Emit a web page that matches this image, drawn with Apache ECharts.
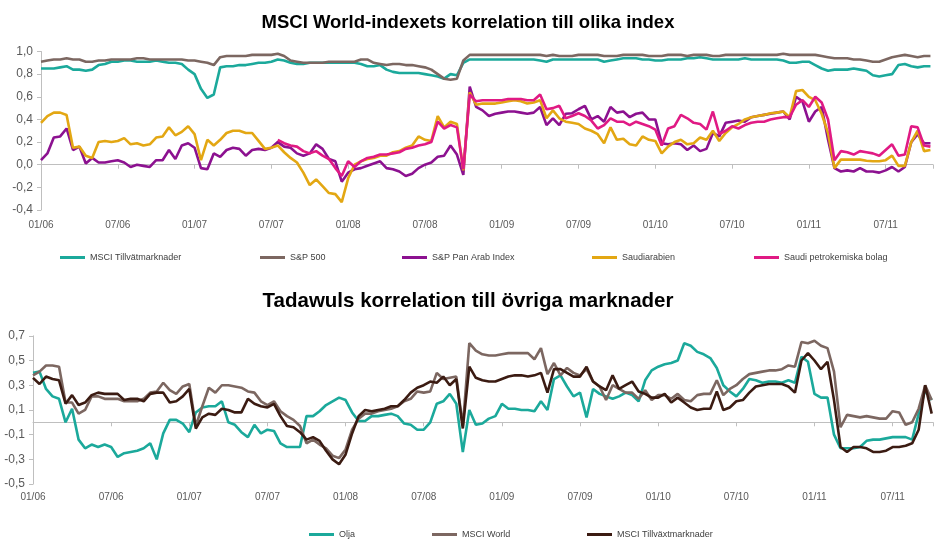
<!DOCTYPE html>
<html>
<head>
<meta charset="utf-8">
<script src="https://cdn.jsdelivr.net/npm/echarts@6.0.0/dist/echarts.min.js"></script>
<style>
  html, body { margin: 0; padding: 0; background: #fff; }
  #chart { width: 936px; height: 539px; }
</style>
</head>
<body>
<div id="chart"></div>
<script>
// sampling grid: months since 01/2006, every half month (0 .. 69.5)
var months = [];
for (var i = 0; i < 140; i++) months.push(i / 2);

var tickLabels = ['01/06', '07/06', '01/07', '07/07', '01/08', '07/08', '01/09', '07/09', '01/10', '07/10', '01/11', '07/11'];

// --- MSCI World-indexets korrelation till olika index ---
var msciTillvat = [
  0.85,0.85,0.85,0.86,0.87,0.84,0.84,0.83,0.84,
  0.88,0.89,0.91,0.91,0.92,0.92,0.91,0.91,0.91,0.92,0.91,0.90,
  0.90,0.89,0.84,0.80,0.67,0.59,0.62,0.86,
  0.87,0.87,0.88,0.88,0.89,0.90,0.90,0.91,0.93,0.92,0.90,0.89,0.89,0.90,
  0.90,0.90,0.90,0.90,0.90,0.90,0.90,0.89,0.87,0.87,0.88,0.84,
  0.82,0.81,0.81,0.81,0.81,0.80,0.79,0.78,0.76,0.80,0.79,0.90,
  0.93,0.93,0.93,0.93,0.93,0.93,0.93,0.93,0.93,0.93,0.93,0.92,0.91,0.93,
  0.93,0.93,0.93,0.93,0.93,0.93,0.93,0.91,0.92,
  0.93,0.94,0.94,0.94,0.93,0.93,0.92,0.92,0.93,0.93,0.93,0.94,0.94,0.95,0.94,0.93,0.93,0.93,0.93,0.93,0.94,0.93,0.93,0.93,0.93,0.93,
  0.92,0.90,0.90,0.91,0.91,0.88,0.85,0.83,0.84,0.84,0.84,0.85,0.84,0.83,0.79,0.78,0.79,0.80,0.88,0.89,0.87,0.86,0.87,0.87
];
var sp500 = [
  0.91,0.92,0.93,0.93,0.94,0.93,0.93,0.91,0.91,
  0.92,0.92,0.93,0.93,0.93,0.93,0.94,0.94,0.93,0.93,0.93,0.93,
  0.93,0.93,0.92,0.92,0.91,0.90,0.88,0.95,
  0.96,0.96,0.96,0.96,0.97,0.97,0.97,0.97,0.98,0.96,0.92,0.91,0.90,0.90,
  0.90,0.90,0.91,0.91,0.91,0.91,0.91,0.93,0.93,0.90,0.89,0.88,
  0.89,0.89,0.88,0.88,0.87,0.86,0.84,0.80,0.76,0.75,0.76,0.92,
  0.97,0.97,0.97,0.97,0.97,0.97,0.97,0.97,0.97,0.97,0.97,0.97,0.96,0.97,
  0.96,0.96,0.96,0.97,0.97,0.97,0.97,0.96,0.96,
  0.96,0.97,0.97,0.97,0.97,0.96,0.96,0.96,0.97,0.97,0.97,0.96,0.97,0.97,0.97,0.96,0.96,0.97,0.97,0.97,0.97,0.97,0.97,0.97,0.97,0.97,
  0.98,0.97,0.97,0.97,0.97,0.97,0.96,0.95,0.94,0.94,0.94,0.93,0.93,0.92,0.91,0.91,0.93,0.95,0.96,0.97,0.96,0.95,0.96,0.96
];
var spPanArab = [
  0.04,0.10,0.24,0.25,0.32,0.13,0.16,0.01,0.06,0.02,0.02,0.03,0.04,0.02,-0.02,0.00,-0.01,-0.02,0.04,0.04,0.13,
  0.05,0.17,0.19,0.15,-0.03,-0.04,0.10,0.07,0.13,0.15,0.14,0.08,0.13,0.14,0.13,0.15,0.20,0.16,0.15,0.10,
  0.08,0.10,0.18,0.14,0.05,0.03,-0.15,-0.07,-0.04,-0.03,-0.01,0.01,0.03,-0.03,-0.04,-0.06,-0.10,-0.08,-0.03,0.00,
  0.02,0.07,0.08,0.17,0.09,-0.09,0.69,0.51,0.48,
  0.43,0.45,0.46,0.47,0.47,0.46,0.45,0.46,0.51,0.35,0.41,0.35,0.45,0.455,0.49,0.52,0.40,0.43,0.38,0.51,
  0.46,0.47,0.42,0.45,0.46,0.40,0.40,0.19,0.18,0.19,0.18,0.13,0.17,0.12,0.14,0.28,0.25,0.37,0.38,0.39,
  0.38,0.42,0.43,0.44,0.45,0.46,0.47,0.40,0.60,0.56,0.38,0.47,0.51,0.22,-0.03,-0.06,-0.05,-0.06,-0.03,-0.06,
  -0.06,-0.07,-0.05,-0.02,-0.06,-0.02,0.20,0.27,0.19,0.19
];
var saudiarabien = [
  0.37,0.43,0.46,0.46,0.44,0.15,0.16,0.08,0.06,0.20,0.21,0.20,0.21,0.235,0.18,0.19,0.17,0.18,0.24,0.25,0.33,
  0.26,0.29,0.34,0.27,0.04,0.22,0.17,0.22,0.28,0.30,0.30,0.28,0.28,0.21,0.14,0.15,0.17,0.11,0.06,0.02,
  -0.07,-0.18,-0.13,-0.19,-0.25,-0.26,-0.33,-0.12,0.00,0.03,0.05,0.06,0.08,0.08,0.11,0.12,0.15,0.17,0.25,0.22,
  0.21,0.43,0.33,0.38,0.36,-0.05,0.64,0.53,0.54,
  0.54,0.54,0.55,0.56,0.57,0.56,0.54,0.55,0.57,0.41,0.48,0.41,0.38,0.37,0.36,0.32,0.30,0.27,0.19,0.33,
  0.22,0.23,0.18,0.17,0.25,0.22,0.21,0.10,0.16,0.20,0.22,0.18,0.19,0.24,0.22,0.30,0.21,0.28,0.33,0.36,
  0.40,0.42,0.43,0.44,0.455,0.46,0.47,0.42,0.65,0.66,0.60,0.57,0.45,0.28,-0.03,0.045,0.045,0.045,0.045,0.035,
  0.03,0.03,0.04,0.08,-0.01,-0.01,0.20,0.30,0.12,0.13
];
var saudiPetro = [
  null,null,null,null,null,null,null,null,null,null,null,null,null,null,null,null,null,null,null,
  null,null,null,null,null,null,null,null,null,null,null,null,null,null,null,null,null,null,
  0.22,0.19,0.17,0.16,0.12,0.10,0.12,0.08,0.05,-0.03,-0.10,0.03,-0.02,0.03,0.06,0.07,0.09,0.09,0.10,0.11,0.14,0.15,0.17,0.18,
  0.20,0.38,0.32,0.35,0.33,-0.04,0.62,0.56,0.57,
  0.57,0.57,0.57,0.58,0.58,0.58,0.57,0.57,0.62,0.49,0.50,0.52,0.41,0.43,0.455,0.43,0.39,0.32,0.35,0.41,
  0.38,0.38,0.35,0.38,0.36,0.34,0.31,0.17,0.32,0.34,0.44,0.41,0.37,0.36,0.31,0.47,0.27,0.30,0.34,0.32,
  0.35,0.37,0.38,0.38,0.40,0.41,0.42,0.42,0.53,0.57,0.51,0.60,0.55,0.40,0.04,0.12,0.11,0.09,0.12,0.11,
  0.10,0.08,0.13,0.18,0.08,0.09,0.34,0.33,0.17,0.16
];

// --- Tadawuls korrelation till övriga marknader ---
var olja = [
  0.40,0.41,0.27,0.21,0.19,0.00,0.11,-0.14,-0.21,-0.18,-0.20,-0.18,-0.20,-0.28,-0.25,-0.24,-0.23,-0.21,-0.17,-0.30,-0.09,
  0.02,0.02,-0.01,-0.08,0.08,0.12,0.13,0.13,0.17,0.00,-0.02,-0.08,-0.12,-0.02,-0.09,-0.06,-0.07,-0.17,-0.20,-0.20,
  -0.20,0.05,0.05,0.09,0.14,0.17,0.20,0.18,0.08,0.01,0.01,0.05,0.05,0.06,0.07,0.05,-0.01,-0.02,-0.06,-0.06,
  0.00,0.15,0.17,0.23,0.15,-0.24,0.10,-0.02,-0.01,
  0.03,0.05,0.15,0.11,0.11,0.10,0.10,0.09,0.17,0.10,0.35,0.38,0.29,0.21,0.24,0.04,0.27,0.23,0.21,0.19,
  0.21,0.24,0.22,0.17,0.34,0.42,0.45,0.47,0.48,0.50,0.64,0.62,0.57,0.55,0.52,0.44,0.30,0.25,0.21,0.27,
  0.35,0.34,0.32,0.33,0.33,0.32,0.34,0.32,0.53,0.49,0.23,0.20,0.20,-0.10,-0.21,-0.21,-0.21,-0.20,-0.15,-0.14,
  -0.14,-0.13,-0.12,-0.12,-0.12,-0.14,0.07,0.26,0.18,null
];
var msciWorld = [
  0.38,0.41,0.46,0.46,0.45,0.16,0.16,0.07,0.10,0.21,0.21,0.19,0.19,0.19,0.17,0.17,0.17,0.19,0.24,0.25,0.32,
  0.26,0.23,0.29,0.31,-0.03,0.13,0.28,0.24,0.30,0.30,0.29,0.28,0.25,0.24,0.17,0.14,0.17,0.09,0.05,0.02,
  -0.03,-0.17,-0.14,-0.18,-0.21,-0.27,-0.29,-0.22,-0.06,0.03,0.07,0.07,0.09,0.10,0.11,0.13,0.17,0.19,0.25,0.24,
  0.25,0.40,0.35,0.36,0.37,-0.03,0.64,0.58,0.55,
  0.54,0.54,0.55,0.56,0.56,0.56,0.56,0.51,0.60,0.39,0.48,0.38,0.44,0.40,0.38,0.43,0.33,0.29,0.18,0.30,
  0.27,0.24,0.24,0.19,0.26,0.18,0.22,0.22,0.19,0.23,0.18,0.17,0.22,0.23,0.23,0.34,0.22,0.27,0.30,0.35,
  0.39,0.40,0.41,0.42,0.42,0.43,0.46,0.45,0.65,0.64,0.66,0.62,0.60,0.41,-0.04,0.06,0.05,0.04,0.05,0.04,
  0.03,0.03,0.09,0.08,-0.02,0.00,0.11,0.30,0.18,null
];
var msciTillvaxt = [
  0.36,0.31,0.37,0.35,0.34,0.15,0.22,0.14,0.16,0.22,0.24,0.23,0.23,0.23,0.18,0.19,0.19,0.17,0.23,0.24,0.24,
  0.16,0.17,0.21,0.27,-0.05,0.04,0.07,0.06,0.11,0.10,0.08,0.08,0.19,0.15,0.13,0.12,0.15,0.05,-0.03,-0.04,
  -0.08,-0.14,-0.12,-0.15,-0.23,-0.30,-0.34,-0.26,-0.09,0.05,0.10,0.09,0.10,0.11,0.13,0.13,0.18,0.24,0.28,0.30,
  0.33,0.32,0.37,0.30,0.35,-0.05,0.45,0.36,0.34,
  0.33,0.33,0.35,0.37,0.38,0.38,0.37,0.38,0.40,0.24,0.43,0.43,0.40,0.37,0.37,0.45,0.33,0.29,0.26,0.38,
  0.27,0.30,0.33,0.25,0.23,0.20,0.20,0.23,0.16,0.20,0.16,0.12,0.10,0.11,0.11,0.25,0.10,0.12,0.17,0.18,
  0.24,0.29,0.30,0.31,0.31,0.31,0.29,0.24,0.50,0.56,0.50,0.43,0.49,0.18,-0.20,-0.24,-0.20,-0.20,-0.21,-0.24,
  -0.24,-0.23,-0.20,-0.20,-0.19,-0.17,-0.06,0.30,0.07,null
];

var FONT = 'Liberation Sans, Arial, sans-serif';
var axisGray = '#BFBFBF';
var labelGray = '#595959';

function pairs(vals) {
  var out = [];
  for (var i = 0; i < months.length; i++) {
    if (vals[i] !== null && vals[i] !== undefined) out.push([months[i], vals[i]]);
  }
  return out;
}

function dateLabel(v) {
  var k = v / 6;
  if (Math.abs(k - Math.round(k)) > 1e-6) return '';
  return tickLabels[Math.round(k)] || '';
}

function numLabel(v) {
  return Number(v).toFixed(1).replace('.', ',');
}

function zeroXAxis(gridIndex, max) {
  return {
    type: 'value', gridIndex: gridIndex, min: 0, max: max, interval: 6,
    axisLine: { onZero: true, lineStyle: { color: axisGray, width: 1 } },
    axisTick: { show: true, length: 4, lineStyle: { color: axisGray } },
    axisLabel: { show: false },
    splitLine: { show: false }
  };
}

function labelXAxis(gridIndex, max, margin) {
  return {
    type: 'value', gridIndex: gridIndex, min: 0, max: max, interval: 6,
    position: 'bottom',
    axisLine: { show: false, onZero: false },
    axisTick: { show: false },
    axisLabel: { formatter: dateLabel, color: labelGray, fontSize: 10, fontFamily: FONT, margin: margin },
    splitLine: { show: false }
  };
}

function yAxisFor(gridIndex, min, max) {
  return {
    type: 'value', gridIndex: gridIndex, min: min, max: max, interval: 0.2,
    axisLine: { show: true, onZero: false, lineStyle: { color: axisGray, width: 1 } },
    axisTick: { show: true, length: 4, lineStyle: { color: axisGray } },
    axisLabel: { formatter: numLabel, color: labelGray, fontSize: 12, fontFamily: FONT, margin: 8 },
    splitLine: { show: false }
  };
}

function line(name, vals, color, xIdx, yIdx) {
  return {
    name: name, type: 'line', xAxisIndex: xIdx, yAxisIndex: yIdx,
    data: pairs(vals), showSymbol: false, symbol: 'none',
    lineStyle: { color: color, width: 2.6 }, itemStyle: { color: color },
    emphasis: { disabled: true }
  };
}

function legendAt(name, left, top) {
  return {
    data: [name], left: left, top: top, icon: 'rect', itemWidth: 25, itemHeight: 3,
    selectedMode: false,
    textStyle: { fontSize: 9, color: '#404040', fontFamily: FONT }
  };
}

var colors = {
  teal: '#1BA99B', taupe: '#7C6761', purple: '#8C1190', gold: '#E3A713', pink: '#E01A84', dark: '#3B1B12'
};

var chart = echarts.init(document.getElementById('chart'), null, { renderer: 'canvas' });
chart.setOption({
  animation: false,
  backgroundColor: '#fff',
  title: [
    { text: 'MSCI World-indexets korrelation till olika index', left: 'center', top: 8,
      textStyle: { fontSize: 18.5, fontWeight: 'bold', color: '#000', fontFamily: FONT } },
    { text: 'Tadawuls korrelation till övriga marknader', left: 'center', top: 286,
      textStyle: { fontSize: 20.5, fontWeight: 'bold', color: '#000', fontFamily: FONT } }
  ],
  legend: [
    legendAt('MSCI Tillvätmarknader', 55, 248),
    legendAt('S&P 500', 255, 248),
    legendAt('S&P Pan Arab Index', 397, 248),
    legendAt('Saudiarabien', 587, 248),
    legendAt('Saudi petrokemiska bolag', 749, 248),
    legendAt('Olja', 304, 525),
    legendAt('MSCI World', 427, 525),
    legendAt('MSCI Tillväxtmarknader', 582, 525)
  ],
  grid: [
    { left: 41, top: 51.5, width: 895, height: 158.5 },
    { left: 33, top: 335.8, width: 903, height: 148.3 }
  ],
  xAxis: [
    zeroXAxis(0, 69.7),
    labelXAxis(0, 69.7, 10),
    zeroXAxis(1, 69.1),
    labelXAxis(1, 69.1, 8)
  ],
  yAxis: [
    yAxisFor(0, -0.4, 1.0),
    yAxisFor(1, -0.5, 0.7)
  ],
  series: [
    line('MSCI Tillvätmarknader', msciTillvat, colors.teal, 0, 0),
    line('S&P 500', sp500, colors.taupe, 0, 0),
    line('S&P Pan Arab Index', spPanArab, colors.purple, 0, 0),
    line('Saudiarabien', saudiarabien, colors.gold, 0, 0),
    line('Saudi petrokemiska bolag', saudiPetro, colors.pink, 0, 0),
    line('Olja', olja, colors.teal, 2, 1),
    line('MSCI World', msciWorld, colors.taupe, 2, 1),
    line('MSCI Tillväxtmarknader', msciTillvaxt, colors.dark, 2, 1)
  ]
});
</script>
</body>
</html>
